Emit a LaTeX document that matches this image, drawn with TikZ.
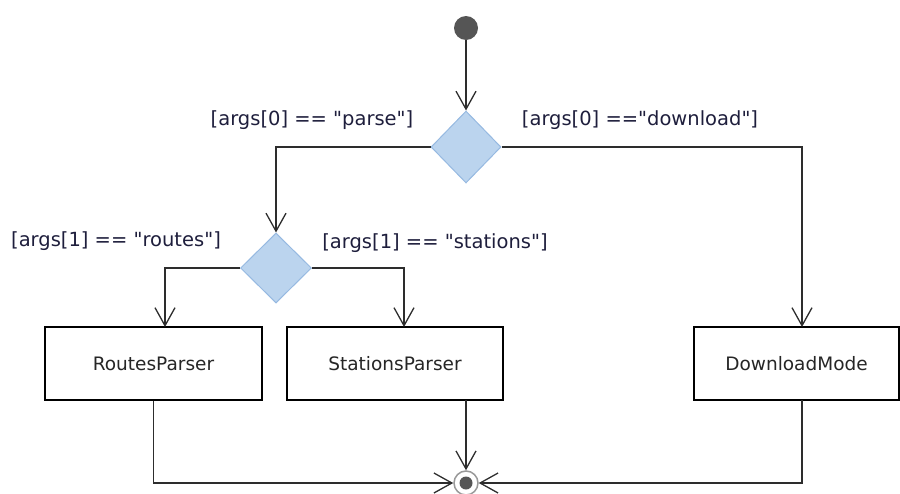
\documentclass[tikz,border=0pt]{standalone}
\usepackage{fontspec}
\setmainfont{DejaVu Sans}[Ligatures=TeXOff]
\usetikzlibrary{arrows.meta,shapes.geometric}
\definecolor{dfill}{RGB}{187,212,238}
\definecolor{dline}{RGB}{150,185,225}
\definecolor{lin}{RGB}{45,45,45}
\definecolor{lbl}{RGB}{30,30,60}
\definecolor{dot}{RGB}{85,85,85}
\begin{document}
\begin{tikzpicture}[x=1pt,y=-1pt,
  conn/.style={draw=lin,line width=1.3pt,-{Straight Barb[length=18pt,width=20pt,line width=1.3pt]}},
  dec/.style={shape=diamond,draw=dline,fill=dfill,line width=1pt,inner sep=0pt,minimum width=70pt,minimum height=72pt},
  act/.style={draw=black,line width=1.2pt,fill=white,minimum height=73pt,inner sep=0pt,font=\fontsize{18.5}{22}\selectfont,text=black!85},
  guard/.style={font=\fontsize{19.5}{22}\selectfont,text=lbl,inner sep=0pt}]
\useasboundingbox (0,0) rectangle (900,493);
\node[circle,fill=dot,minimum size=24pt,inner sep=0pt] (start) at (466,28) {};
\node[dec] (d1) at (466,147) {};
\node[dec,minimum width=71pt,minimum height=70pt] (d2) at (276,268) {};
\node[act,minimum width=217pt] (rp) at (153.5,363.5) {RoutesParser};
\node[act,minimum width=216pt] (sp) at (395,363.5) {StationsParser};
\node[act,minimum width=205pt] (dm) at (796.5,363.5) {DownloadMode};
\node[circle,draw=dot!60,fill=white,line width=1.5pt,minimum size=24pt,inner sep=0pt] (end) at (466,483) {};
\fill[dot] (end.center) circle (6.5pt);
\coordinate (rpin) at (165,327);
\coordinate (spin) at (404,327);
\coordinate (dmin) at (802,327);
\coordinate (spout) at (466,400);
\coordinate (dmout) at (802,400);
\node[guard] (g1) at (312,120) {[args[0] == "parse"]};
\node[guard] (g2) at (640,120) {[args[0] =="download"]};
\node[guard] (g3) at (116,241) {[args[1] == "routes"]};
\node[guard] (g4) at (435,243) {[args[1] == "stations"]};
\draw[conn] (start) -- (d1.north);
\draw[conn] (d1.west) -| (d2.north);
\draw[conn] (d1.east) -| (dmin);
\draw[conn] (d2.west) -| (rpin);
\draw[conn] (d2.east) -| (spin);
\draw[conn] (rp.south) |- (end.west);
\draw[conn] (spout) -- (end.north);
\draw[conn] (dmout) |- (end.east);
\end{tikzpicture}
\end{document}
